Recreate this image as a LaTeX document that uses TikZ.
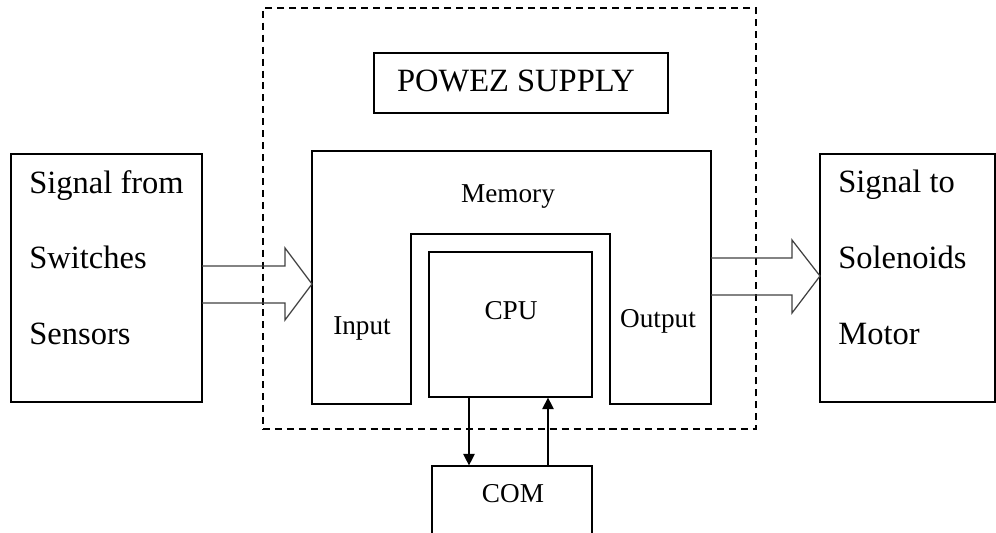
\documentclass[tikz,border=0pt]{standalone}
\usepackage{fontspec}
\setmainfont{Liberation Serif}
\usetikzlibrary{arrows.meta,fit}
\begin{document}
\begin{tikzpicture}[
	x=0.02cm, y=-0.02cm,
	box/.style={ draw, line width=0.7pt, inner sep=0pt },
	plcbox/.style={ draw, line width=0.7pt, dash pattern=on 4pt off 2.8pt, inner sep=0pt },
	fat/.style={ draw=black!75, line width=0.7pt, line join=miter },
	sigtext/.style={ anchor=base west, inner sep=0pt, font=\fontsize{18.5}{20}\selectfont },
	parttext/.style={ anchor=base, inner sep=0pt, font=\fontsize{15.5}{17}\selectfont },
	link/.style={ line width=0.7pt, -{Triangle[length=6.5pt,width=6.5pt]} }
]
\useasboundingbox (0,0) rectangle (996,532);
\clip (0,0) rectangle (996,532);

% dashed outline of the controller and its power supply
\node (plc) [plcbox, fit={(263,8) (756,429)}] {};
\node (psu) [box, fit={(374,53) (668,113)}] {};
\node at (516,91) (psut) [parttext, font=\fontsize{18.5}{20}\selectfont] {POWEZ SUPPLY};

% memory block wrapped round the cpu
\coordinate (memA) at (312,151);
\coordinate (memB) at (711,151);
\coordinate (memC) at (711,404);
\coordinate (memD) at (610,404);
\coordinate (memE) at (610,234);
\coordinate (memF) at (411,234);
\coordinate (memG) at (411,404);
\coordinate (memH) at (312,404);
\draw[line width=0.7pt] (memA) -- (memB) -- (memC) -- (memD) -- (memE) -- (memF) -- (memG) -- (memH) -- cycle;
\node at (508,202) (memt) [parttext] {Memory};
\node at (362,334) (int) [parttext] {Input};
\node at (658,327) (outt) [parttext] {Output};

\node (cpu) [box, fit={(429,252) (592,397)}] {};
\node at (511,319) (cput) [parttext] {CPU};

\node (com) [box, fit={(432,466) (592,560)}] {};
\node at (513,502) (comt) [parttext] {COM};

\coordinate (dn) at (469,0);
\coordinate (up) at (548,0);
\draw[link] (cpu.south -| dn) to (com.north -| dn);
\draw[link] (com.north -| up) to (cpu.south -| up);

% input side
\node (src) [box, fit={(11,154) (202,402)}] {};
\node at (29,193) (src1) [sigtext] {Signal from};
\node at (29,268) (src2) [sigtext] {Switches};
\node at (29,344) (src3) [sigtext] {Sensors};

\coordinate (inA) at (312,284);
\draw[fat] (202,266) -- (285,266) -- (285,248) -- (inA) -- (285,320) -- (285,303) -- (202,303);

% output side
\node (dst) [box, fit={(820,154) (995,402)}] {};
\node at (838,192) (dst1) [sigtext] {Signal to};
\node at (838,268) (dst2) [sigtext] {Solenoids};
\node at (838,344) (dst3) [sigtext] {Motor};

\coordinate (outA) at (820,276);
\draw[fat] (711,258) -- (792,258) -- (792,240) -- (outA) -- (792,313) -- (792,295) -- (711,295);

\end{tikzpicture}
\end{document}
